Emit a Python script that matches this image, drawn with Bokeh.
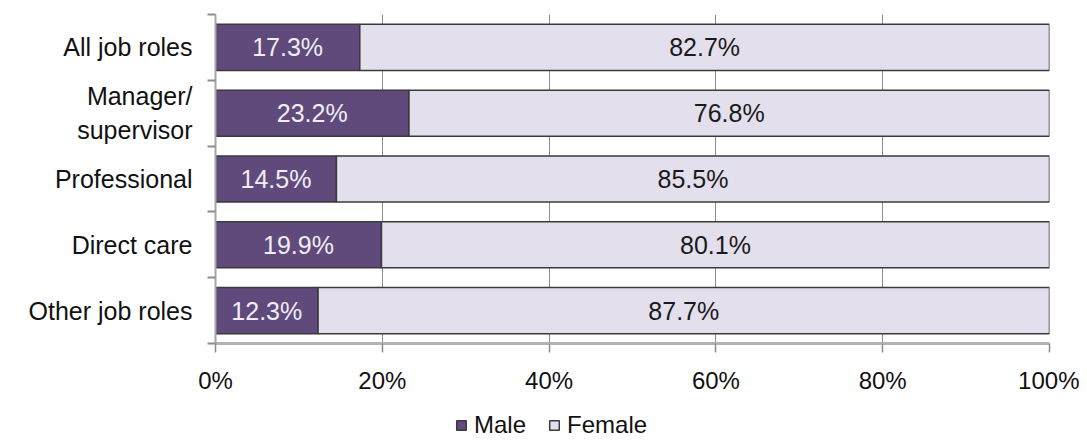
from bokeh.plotting import figure
from bokeh.layouts import column
from bokeh.models import (ColumnDataSource, Range1d, LinearAxis,
                          FixedTicker, CustomJSTickFormatter, Legend, LegendItem, LabelSet)
from bokeh.core.properties import value
from bokeh.embed import file_html
from bokeh.resources import INLINE

categories = ["All job roles", "Manager/\nsupervisor", "Professional", "Direct care", "Other job roles"]
male = [17.3, 23.2, 14.5, 19.9, 12.3]
female = [82.7, 76.8, 85.5, 80.1, 87.7]
series = ["Male", "Female"]
x_ticks = [0, 20, 40, 60, 80, 100]

FONT = "Liberation Sans"
male_color = "#5f4a7b"
female_color = "#e4dfec"
edge_color = "#3a3a3a"

n = len(categories)
ypos = [n - i - 0.5 for i in range(n)]  # first category on top

src = ColumnDataSource(dict(
    y=ypos,
    male=male,
    female=female,
    total=[m + f for m, f in zip(male, female)],
    male_mid=[m / 2 for m in male],
    female_mid=[m + f / 2 for m, f in zip(male, female)],
    male_lbl=[f"{m:.1f}%" for m in male],
    female_lbl=[f"{f:.1f}%" for f in female],
))

W, H, LH = 1079, 400, 39
p = figure(width=W, height=H, output_backend="svg", toolbar_location=None,
           y_range=Range1d(0, n), x_range=Range1d(0, 100),
           y_axis_location=None, x_axis_location=None,
           min_border_left=215, min_border_right=W - 1049, min_border_top=14,
           min_border_bottom=H - 343)
p.outline_line_color = None
p.background_fill_color = "white"
p.border_fill_color = "white"

# grid
p.ygrid.grid_line_color = None
p.xgrid.ticker = FixedTicker(ticks=x_ticks)
p.xgrid.grid_line_color = "#8c8c8c"
p.xgrid.grid_line_width = 1

# bars
p.hbar(y="y", left=0, right="male", height=0.7, source=src,
       fill_color=male_color, line_color=edge_color, line_width=1.5)
p.hbar(y="y", left="male", right="total", height=0.7, source=src,
       fill_color=female_color, line_color=edge_color, line_width=1.5)

p.add_layout(LabelSet(x="male_mid", y="y", text="male_lbl", source=src,
                      text_align="center", text_baseline="middle",
                      text_font=value(FONT), text_font_size="25px", text_color="#f0edf6"))
p.add_layout(LabelSet(x="female_mid", y="y", text="female_lbl", source=src,
                      text_align="center", text_baseline="middle",
                      text_font=value(FONT), text_font_size="25px", text_color="#1a1a1a"))

# x axis
xa = LinearAxis(ticker=FixedTicker(ticks=x_ticks),
                formatter=CustomJSTickFormatter(code="return tick + '%';"))
xa.axis_line_color = "#b3b3b3"
xa.axis_line_width = 3
xa.major_tick_line_color = "#8c8c8c"
xa.major_tick_line_width = 1.5
xa.major_tick_in = 0
xa.major_tick_out = 9
xa.minor_tick_line_color = None
xa.major_label_standoff = 14
xa.major_label_text_font = FONT
xa.major_label_text_font_size = "24px"
xa.major_label_text_color = "#111111"
p.add_layout(xa, "below")

# y axis: labels at band centres, minor ticks at band edges
ya = LinearAxis(ticker=FixedTicker(ticks=ypos, minor_ticks=list(range(n + 1))))
ya.major_label_overrides = {y: c for y, c in zip(ypos, categories)}
ya.axis_line_color = "#a6a6a6"
ya.axis_line_width = 2
ya.major_tick_line_color = None
ya.major_tick_in = 0
ya.major_tick_out = 0
ya.minor_tick_line_color = "#8c8c8c"
ya.minor_tick_line_width = 2
ya.minor_tick_in = 0
ya.minor_tick_out = 8
ya.major_label_standoff = 15
ya.major_label_text_font = FONT
ya.major_label_text_font_size = "25px"
ya.major_label_text_color = "#111111"
p.add_layout(ya, "left")

# legend strip (separate figure so the legend can sit freely below the axis)
lg = figure(width=W, height=LH, output_backend="svg", toolbar_location=None,
            x_range=Range1d(0, 1), y_range=Range1d(0, 1),
            x_axis_location=None, y_axis_location=None,
            min_border_left=0, min_border_right=0, min_border_top=0, min_border_bottom=0)
lg.outline_line_color = None
lg.xgrid.grid_line_color = None
lg.ygrid.grid_line_color = None
# legend proxies: one swatch each, kept outside the visible range of the strip
proxy = dict(left=[-3], right=[-2], top=[-2], bottom=[-3])
lm = lg.quad(**proxy, fill_color=male_color, line_color=edge_color, line_width=1.5)
lf = lg.quad(**proxy, fill_color=female_color, line_color=edge_color, line_width=1.5)
legend = Legend(items=[LegendItem(label=series[0], renderers=[lm]),
                       LegendItem(label=series[1], renderers=[lf])],
                orientation="horizontal", location=(240, 0),
                label_text_font=FONT, label_text_font_size="24px", label_text_color="#111111",
                glyph_width=12, glyph_height=12, spacing=22, padding=0, margin=0,
                label_standoff=7, border_line_color=None, background_fill_alpha=0)
lg.add_layout(legend, "center")

layout = column(p, lg, spacing=0)
open("out.html", "w").write(file_html(layout, INLINE))
